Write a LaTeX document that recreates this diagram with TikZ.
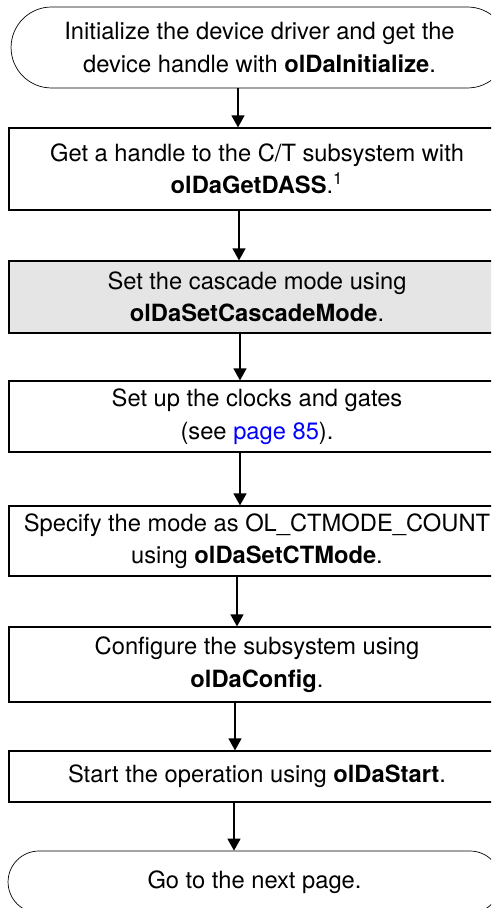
\documentclass[tikz,border=0pt]{standalone}
\usepackage{fontspec}
\setmainfont{TeX Gyre Heros}
\usetikzlibrary{shapes,arrows.meta}
\definecolor{shade}{RGB}{229,229,229}
\definecolor{linkblue}{RGB}{0,0,255}

\begin{document}
\begin{tikzpicture}[x=0.02cm, y=-0.02cm,
  every node/.style={font=\fontsize{13.5}{18.5}\selectfont, align=center},
  box/.style={draw, line width=0.7pt, minimum width=9.92cm, inner sep=0pt},
  term/.style={draw, rectangle, line width=0.4pt, inner sep=0pt},
  flow/.style={line width=0.7pt, -{Triangle[width=0.26cm, length=0.24cm]}}]
\path[use as bounding box, clip] (0,0) rectangle (491,908);
\node[term, rounded corners=0.81cm, minimum width=9.94cm, minimum height=1.62cm] (init) at (259.5,47.5) {Initialize the device driver and get the\\device handle with \textbf{olDaInitialize}.};
\node[box, minimum height=1.64cm] (dass) at (257,169) {Get a handle to the C/T subsystem with\\\textbf{olDaGetDASS}.\textsuperscript{1}};
\node[box, fill=shade, minimum height=1.44cm] (casc) at (257,297) {Set the cascade mode using\\\textbf{olDaSetCascadeMode}.};
\node[box, minimum height=1.42cm] (clk) at (257,416.5) {Set up the clocks and gates\\(see \textcolor{linkblue}{page 85}).};
\node[box, minimum height=1.4cm] (mode) at (257,541) {Specify the mode as OL\_CTMODE\_COUNT\\using \textbf{olDaSetCTMode}.};
\node[box, minimum height=1.5cm] (cfg) at (257,664.5) {Configure the subsystem using\\\textbf{olDaConfig}.};
\node[box, minimum height=1.02cm] (start) at (257,776.5) {Start the operation using \textbf{olDaStart}.};
\node[term, rounded corners=0.62cm, minimum width=9.86cm, minimum height=1.24cm] (next) at (254.5,882) {Go to the next page.};
\foreach \a/\b/\x in {init/dass/238, dass/casc/239, casc/clk/240, clk/mode/240, mode/cfg/237, cfg/start/235, start/next/234}
  \draw[flow] (\x,0 |- \a.south) -- (\x,0 |- \b.north);
\end{tikzpicture}
\end{document}
